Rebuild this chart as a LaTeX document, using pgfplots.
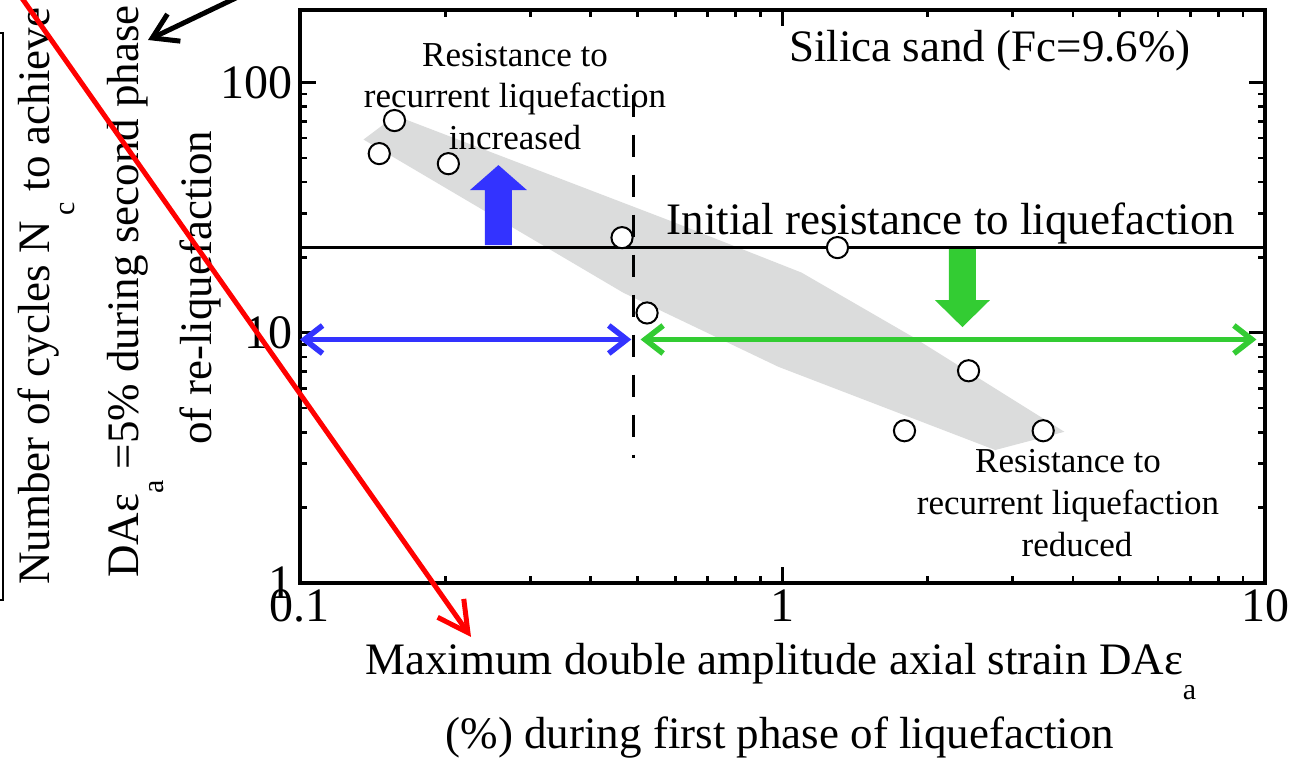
\documentclass[border=0pt]{standalone}
\usepackage{fontspec}
\setmainfont{Liberation Serif}
\usepackage{pgfplots}
\pgfplotsset{compat=1.18}
\usetikzlibrary{arrows.meta}
\definecolor{bandgray}{RGB}{219,220,220}
\definecolor{arrblue}{RGB}{51,51,255}
\definecolor{arrgreen}{RGB}{51,204,51}
\newcommand{\lab}{\fontsize{22.5}{26}\selectfont}
\newcommand{\smtxt}{\fontsize{17.5}{21}\selectfont}
\newcommand{\subs}[1]{\raisebox{-12.5pt}{\fontsize{15}{15}\selectfont #1}}
\begin{document}
\begin{tikzpicture}
\begin{axis}[
  at={(150pt,-291.5pt)}, anchor=south west,
  scale only axis, width=482.5pt, height=286.5pt,
  xmode=log, ymode=log,
  xmin=0.1, xmax=10, ymin=1, ymax=195,
  xtick={0.1,1,10}, xticklabels={0.1,1,10},
  ytick={1,10,100}, yticklabels={1,10,100},
  minor xtick={0.2,0.3,0.4,0.5,0.6,0.7,0.8,0.9,2,3,4,5,6,7,8,9},
  minor ytick={2,3,4,5,6,7,8,9,20,30,40,50,60,70,80,90},
  tick align=inside,
  major tick length=8pt, minor tick length=3.5pt,
  tick style={line width=1.3pt, black},
  axis line style={line width=2pt},
  ticklabel style={font=\fontsize{24}{24}\selectfont},
  /pgf/number format/assume math mode=true,
  clip=false,
]
% grey band
\addplot[fill=bandgray, draw=none] coordinates {
  (0.1354,59.2) (0.1577,73.8) (0.5776,28.3) (1.095,17.4) (1.86,9.64)
  (3.84,4.02) (2.76,3.40) (0.981,7.31) (0.468,14.45)} -- cycle;
% initial resistance line
\addplot[black, line width=1.5pt] coordinates {(0.1,22) (10,22)};
% dashed boundary
\addplot[black, line width=1.2pt, dash pattern=on 11pt off 9pt] coordinates {(0.491,89.5) (0.491,3.16)};
% double arrows
\addplot[arrblue, line width=2.8pt, arrows={Straight Barb[length=9pt,width=14pt]-Straight Barb[length=9pt,width=14pt]}] coordinates {(0.1,9.4) (0.486,9.4)};
\addplot[arrgreen, line width=2.8pt, arrows={Straight Barb[length=9pt,width=14pt]-Straight Barb[length=9pt,width=14pt]}] coordinates {(0.508,9.4) (9.6,9.4)};
% thick arrows
\begin{scope}[shift={(axis cs:0.2578,22)}]
\fill[arrblue] (-6.75pt,1pt) -- (-6.75pt,28.5pt) -- (-14.25pt,28.5pt) -- (0pt,41pt) -- (14.25pt,28.5pt) -- (6.75pt,28.5pt) -- (6.75pt,1pt) -- cycle;
\end{scope}
\begin{scope}[shift={(axis cs:2.36,22)}]
\fill[arrgreen] (-6.75pt,-1pt) -- (-6.75pt,-26.5pt) -- (-13.75pt,-26.5pt) -- (0pt,-40pt) -- (13.75pt,-26.5pt) -- (6.75pt,-26.5pt) -- (6.75pt,-1pt) -- cycle;
\end{scope}
% data
\addplot[only marks, mark=*, mark size=5.3pt, mark options={fill=white, draw=black, line width=1pt}] coordinates {
  (0.146,52) (0.157,70.5) (0.203,47.4) (0.465,24) (0.524,12.0)
  (1.30,21.9) (1.79,4.06) (2.43,7.05) (3.47,4.06)};
\end{axis}
\begin{scope}[x=0.5pt,y=-0.5pt]
\node[anchor=base, font=\lab] at (990,62) {Silica sand (Fc=9.6\%)};
\node[anchor=base, font=\lab] at (951,235) {Initial resistance to liquefaction};
\node[anchor=base, font=\smtxt] at (515,67) {Resistance to};
\node[anchor=base, font=\smtxt] at (515,108) {recurrent liquefaction};
\node[anchor=base, font=\smtxt] at (515,150) {increased};
\node[anchor=base, font=\smtxt] at (1068,473) {Resistance to};
\node[anchor=base, font=\smtxt] at (1068,515) {recurrent liquefaction};
\node[anchor=base, font=\smtxt] at (1077,557) {reduced};
% x label
\node[anchor=base west, inner sep=0pt, font=\lab] at (365,675) {Maximum double amplitude axial strain DAε\subs{a}};
\node[anchor=base, font=\lab] at (780,749) {(\%) during first phase of liquefaction};
% y label
\node[rotate=90, anchor=base west, inner sep=0pt, font=\lab] at (49,585) {Number of cycles N\hspace{2.5pt}\subs{c} to achieve};
\node[rotate=90, anchor=base west, inner sep=0pt, font=\lab] at (138,578) {DAε\subs{a} =5\% during second phase};
\node[rotate=90, anchor=base west, inner sep=0pt, font=\lab] at (211,445) {of re-liquefaction};
% annotation overlays
\draw[black, line width=0.8pt] (-2,33) -- (3,33) -- (3,600) -- (-2,600);
\draw[black, line width=2.5pt, -{Straight Barb[length=12pt,width=15pt]}] (240,-4) -- (148,40);
\draw[red, line width=2.5pt, -{Straight Barb[length=15pt,width=16pt]}] (19,-6) -- (471,637);
\pgfresetboundingbox
\path[use as bounding box] (0,0) rectangle (1301,763);
\end{scope}
\end{tikzpicture}
\end{document}
